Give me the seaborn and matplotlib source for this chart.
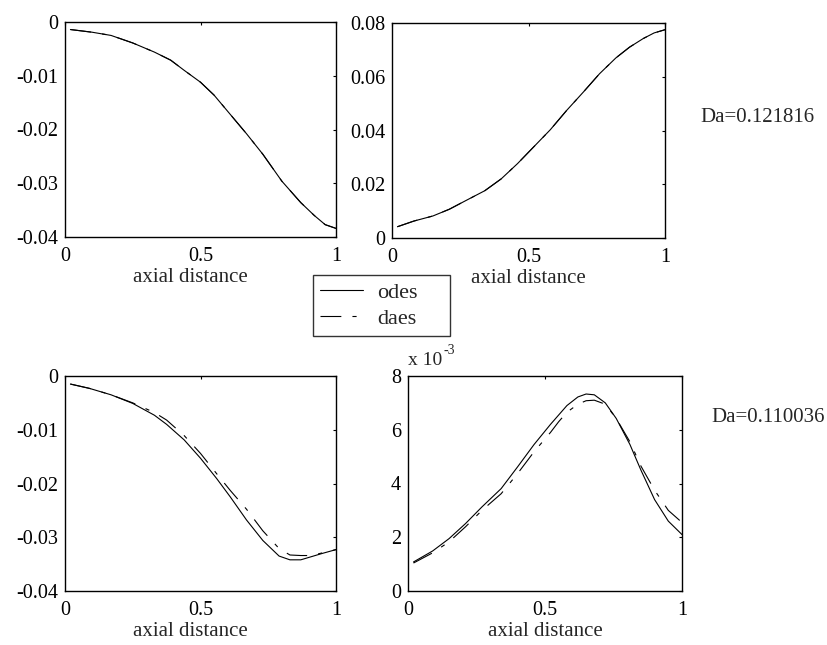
import matplotlib
matplotlib.use("Agg")
import matplotlib.pyplot as plt
from matplotlib.lines import Line2D
import seaborn as sns
import pandas as pd

# ---------------- data ----------------
series_names = ["odes", "daes"]

tl_x = [0.02, 0.1, 0.17, 0.25, 0.33, 0.39, 0.44, 0.5, 0.55, 0.6, 0.67, 0.73, 0.8,
        0.87, 0.92, 0.96, 1.0]
tl_odes = [-0.0014, -0.0019, -0.0025, -0.0039, -0.0056, -0.0071, -0.0090, -0.0112,
           -0.0136, -0.0166, -0.0208, -0.0246, -0.0296, -0.0336, -0.0360, -0.0377,
           -0.0384]
tl_daes = tl_odes

tr_x = [0.02, 0.08, 0.15, 0.21, 0.27, 0.34, 0.4, 0.46, 0.52, 0.58, 0.64, 0.7, 0.76,
        0.82, 0.87, 0.92, 0.96, 1.0]
tr_odes = [0.0042, 0.0063, 0.0082, 0.0107, 0.0139, 0.0176, 0.0220, 0.0277, 0.0340,
           0.0403, 0.0475, 0.0542, 0.0611, 0.0670, 0.0710, 0.0742, 0.0763, 0.0775]
tr_daes = tr_odes

bl_x = [0.02, 0.09, 0.17, 0.25, 0.33, 0.375, 0.44, 0.5, 0.56, 0.61, 0.67, 0.73,
        0.79, 0.83, 0.87, 0.91, 0.95, 1.0]
bl_odes = [-0.0015, -0.0023, -0.0035, -0.0051, -0.0073, -0.0090, -0.0119, -0.0153,
           -0.0191, -0.0225, -0.0268, -0.0306, -0.0335, -0.0342, -0.0342, -0.0336,
           -0.0330, -0.0323]
bl_daes = [-0.0015, -0.0023, -0.0035, -0.0050, -0.0068, -0.0082, -0.0111, -0.0144,
           -0.0182, -0.0213, -0.0248, -0.0288, -0.0321, -0.0333, -0.0334, -0.0334,
           -0.0329, -0.0323]

br_x = [0.02, 0.09, 0.15, 0.21, 0.27, 0.34, 0.4, 0.46, 0.52, 0.55, 0.58, 0.62, 0.65,
        0.68, 0.72, 0.76, 0.81, 0.85, 0.9, 0.95, 1.0]
br_odes = [1.08, 1.49, 1.95, 2.51, 3.13, 3.81, 4.62, 5.45, 6.2, 6.55, 6.9, 7.22,
           7.33, 7.3, 7.0, 6.42, 5.45, 4.5, 3.4, 2.6, 2.1]
br_daes = [1.04, 1.42, 1.83, 2.39, 3.0, 3.62, 4.37, 5.18, 5.9, 6.3, 6.65, 6.95,
           7.08, 7.1, 6.95, 6.42, 5.55, 4.65, 3.75, 3.0, 2.55]

xticks = [0, 0.5, 1]
xtick_labels = ["0", "0.5", "1"]
neg_yticks = [0, -0.01, -0.02, -0.03, -0.04]
neg_ylabels = ["0", "-0.01", "-0.02", "-0.03", "-0.04"]
tr_yticks = [0, 0.02, 0.04, 0.06, 0.08]
tr_ylabels = ["0", "0.02", "0.04", "0.06", "0.08"]
br_yticks = [0, 2, 4, 6, 8]
br_ylabels = ["0", "2", "4", "6", "8"]
da_labels = ["Da=0.121816", "Da=0.110036"]
xlabel = "axial distance"

# ---------------- style ----------------
sns.set_style("white")
plt.rcParams["font.family"] = ["Liberation Serif", "DejaVu Serif"]
plt.rcParams["axes.unicode_minus"] = False
plt.rcParams["lines.scale_dashes"] = False
plt.rcParams["xtick.direction"] = "in"
plt.rcParams["ytick.direction"] = "in"
plt.rcParams["xtick.top"] = True
plt.rcParams["ytick.right"] = True
plt.rcParams["xtick.major.size"] = 2.5
plt.rcParams["ytick.major.size"] = 2.5
plt.rcParams["xtick.major.width"] = 0.8
plt.rcParams["ytick.major.width"] = 0.8

W, H = 827, 645
fig = plt.figure(figsize=(W / 100, H / 100), dpi=100)
fig.patch.set_facecolor("white")

def fx(px):
    return px / W

def fy(py):
    return 1 - py / H

def rect(x0, y0, x1, y1):
    return [x0 / W, 1 - y1 / H, (x1 - x0) / W, (y1 - y0) / H]

DASH = (15, 8, 3, 8)
TICK_FS = 14.5
LBL_FS = 15

def panel(r, x, odes, daes, yticks, ylim, ylabels, label_x):
    ax = fig.add_axes(rect(*r))
    df = pd.DataFrame({
        "x": list(x) * 2,
        "y": list(odes) + list(daes),
        "s": [series_names[0]] * len(x) + [series_names[1]] * len(x),
    })
    sns.lineplot(data=df, x="x", y="y", hue="s", style="s",
                 palette=["black", "black"], dashes=["", DASH],
                 linewidth=0.8, ax=ax, legend=False, sort=False)
    ax.set_xlim(0, 1)
    ax.set_ylim(*ylim)
    ax.set_xticks(xticks)
    ax.set_xticklabels(xtick_labels)
    ax.set_yticks(yticks)
    ax.set_yticklabels(ylabels)
    ax.set_xlabel(xlabel, fontsize=LBL_FS)
    ax.xaxis.set_label_coords(label_x, -0.145, transform=ax.transAxes)
    ax.xaxis.label.set_va("top")
    ax.set_ylabel("")
    ax.tick_params(axis="x", labelsize=TICK_FS, colors="black", pad=7)
    ax.tick_params(axis="y", labelsize=TICK_FS, colors="black", pad=5)
    for sp in ax.spines.values():
        sp.set_color("black")
        sp.set_linewidth(1.0)
    return ax

ax1 = panel((65, 22, 336, 237), tl_x, tl_odes, tl_daes, neg_yticks, (-0.04, 0),
            neg_ylabels, 0.463)
ax2 = panel((392, 23, 665, 238), tr_x, tr_odes, tr_daes, tr_yticks, (0, 0.08),
            tr_ylabels, 0.5)
ax3 = panel((65, 376, 336, 591), bl_x, bl_odes, bl_daes, neg_yticks, (-0.04, 0),
            neg_ylabels, 0.463)
ax4 = panel((408, 376, 682, 591), br_x, br_odes, br_daes, br_yticks, (0, 8),
            br_ylabels, 0.5)

# exponent label above bottom-right axes
fig.text(fx(408), fy(365), "x 10", fontsize=14, ha="left", va="baseline")
fig.text(fx(444), fy(354), "-3", fontsize=10, ha="left", va="baseline")

fig.text(fx(700), fy(118), da_labels[0], fontsize=15, ha="left", va="center")
fig.text(fx(711), fy(417), da_labels[1], fontsize=15, ha="left", va="center")

handles = [Line2D([], [], color="black", lw=0.8),
           Line2D([], [], color="black", lw=0.8, dashes=DASH)]
leg = fig.legend(handles, series_names, loc="upper left",
                 bbox_to_anchor=(fx(313), fy(275), fx(450) - fx(313), 0),
                 mode="expand", fontsize=16,
                 frameon=True, fancybox=False, handlelength=1.9,
                 borderpad=0.33, labelspacing=0.25, handletextpad=0.65,
                 borderaxespad=0)
leg.get_frame().set_edgecolor("black")
leg.get_frame().set_linewidth(1.0)

fig.savefig("out.png", dpi=100, facecolor="white")
